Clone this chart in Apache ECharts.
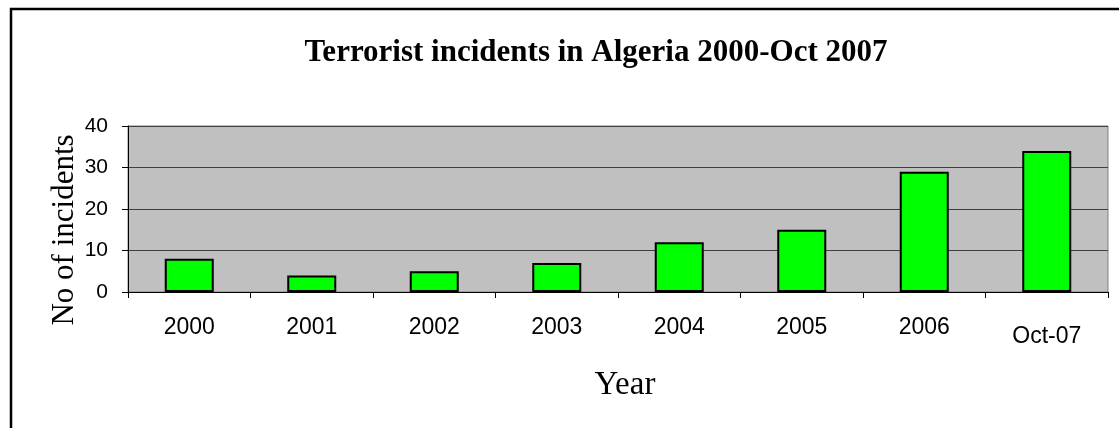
<!DOCTYPE html>
<html>
<head>
<meta charset="utf-8">
<title>Terrorist incidents in Algeria</title>
<script src="https://cdn.jsdelivr.net/npm/echarts@6/dist/echarts.min.js"></script>
<style>
  html, body { margin: 0; padding: 0; background: #fff; }
  #chart { width: 1119px; height: 428px; }
</style>
</head>
<body>
<div id="chart"></div>
<script>
// data
const years = ["2000", "2001", "2002", "2003", "2004", "2005", "2006", "Oct-07"];
const incidents = [8, 4, 5, 7, 12, 15, 29, 34];
const yTicks = [0, 10, 20, 30, 40];

const chart = echarts.init(document.getElementById("chart"));
const option = {
  animation: false,
  backgroundColor: "#fff",
  title: {
    text: "Terrorist incidents in Algeria 2000-Oct 2007",
    left: 591,
    top: 32,
    textAlign: "center",
    textStyle: {
      fontFamily: "Liberation Serif",
      fontWeight: "bold",
      fontSize: 31,
      color: "#000",
    },
  },
  graphic: [
    // outer chart border (right and bottom edges fall outside the frame)
    {
      type: "rect",
      shape: { x: 11, y: 9, width: 1140, height: 450 },
      style: { fill: null, stroke: "#000", lineWidth: 2.5 },
      z: 100,
    },
    // y axis title, sits a bit below the plot's middle
    {
      type: "text",
      x: 65,
      y: 230,
      rotation: Math.PI / 2,
      style: {
        text: "No of incidents",
        fontFamily: "Liberation Serif",
        fontSize: 31,
        fill: "#000",
        align: "center",
        verticalAlign: "middle",
      },
    },
  ],
  grid: {
    left: 128,
    right: 11,
    top: 126,
    bottom: 136,
    show: true,
    backgroundColor: "#c0c0c0",
    borderColor: "#808080",
    borderWidth: 1,
  },
  xAxis: {
    type: "category",
    data: years,
    name: "Year",
    nameLocation: "middle",
    nameGap: 77,
    nameTextStyle: {
      fontFamily: "Liberation Serif",
      fontSize: 33,
      color: "#000",
      padding: [0, 0, 0, 14],
    },
    axisLine: { lineStyle: { color: "#000", width: 1 } },
    axisTick: { show: true, length: 6, lineStyle: { color: "#000" } },
    axisLabel: {
      interval: 0,
      margin: 24,
      fontFamily: "Liberation Sans",
      fontSize: 23,
      color: "#000",
      formatter: (v) => (v === "Oct-07" ? "{low|" + v + "}" : v),
      rich: {
        low: {
          fontFamily: "Liberation Sans",
          fontSize: 23,
          color: "#000",
          padding: [9, 0, 0, 0],
        },
      },
    },
  },
  yAxis: {
    type: "value",
    min: yTicks[0],
    max: yTicks[yTicks.length - 1],
    interval: 10,
    axisLine: { show: true, lineStyle: { color: "#000", width: 1 } },
    axisTick: { show: true, length: 6, lineStyle: { color: "#000" } },
    axisLabel: {
      margin: 20,
      fontFamily: "Liberation Sans",
      fontSize: 21,
      color: "#000",
    },
    splitLine: { lineStyle: { color: "#404040", width: 1 } },
  },
  series: [
    {
      type: "bar",
      data: incidents,
      barWidth: "40%",
      itemStyle: {
        color: "#00ff00",
        borderColor: "#000",
        borderWidth: 2,
      },
    },
  ],
};
chart.setOption(option);
</script>
</body>
</html>
